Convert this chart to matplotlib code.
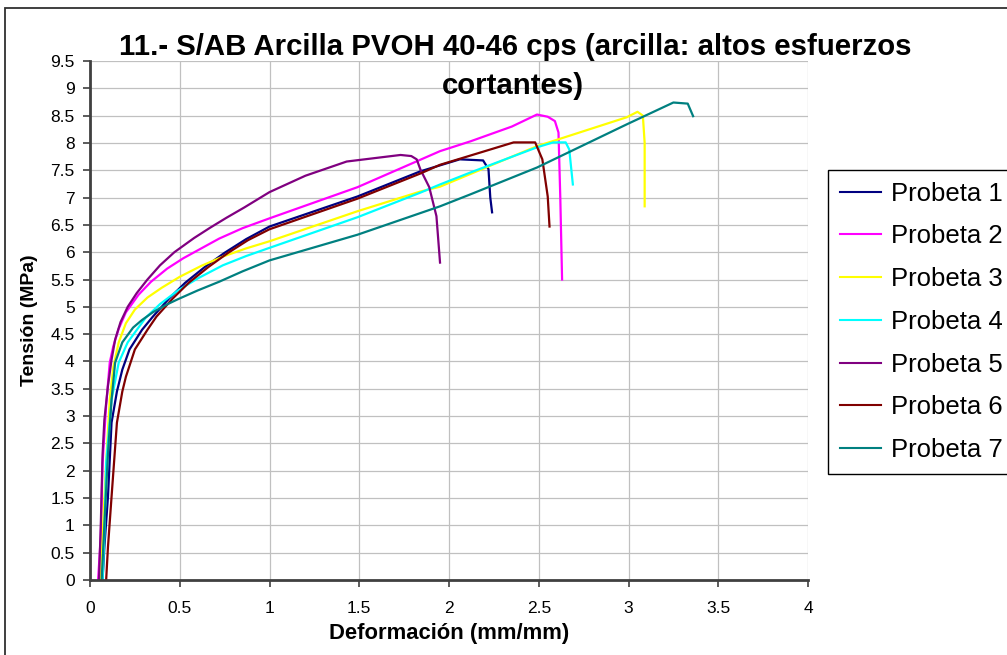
import matplotlib
matplotlib.use("Agg")
import matplotlib.pyplot as plt
from matplotlib.patches import Rectangle

plt.rcParams['font.family'] = ['Liberation Sans', 'DejaVu Sans']

# Stress-strain curves (strain in mm/mm, stress in MPa)
x1 = [0.07, 0.08, 0.10, 0.12, 0.15, 0.18, 0.22, 0.29, 0.35, 0.44, 0.53, 0.64, 0.75, 0.87, 1.00, 1.49, 1.84, 2.06, 2.19, 2.22, 2.23, 2.24]
y1 = [0.0, 0.6, 1.52, 2.88, 3.45, 3.85, 4.22, 4.58, 4.82, 5.15, 5.44, 5.73, 5.99, 6.24, 6.47, 7.02, 7.48, 7.70, 7.68, 7.52, 7.0, 6.73]

x2 = [0.045, 0.06, 0.07, 0.09, 0.11, 0.13, 0.16, 0.20, 0.27, 0.34, 0.43, 0.52, 0.62, 0.72, 0.85, 1.00, 1.49, 1.95, 2.12, 2.35, 2.49, 2.55, 2.59, 2.61, 2.62, 2.63]
y2 = [0.0, 0.8, 2.14, 3.2, 3.98, 4.28, 4.6, 4.9, 5.22, 5.46, 5.7, 5.89, 6.07, 6.25, 6.44, 6.62, 7.19, 7.85, 8.03, 8.3, 8.52, 8.48, 8.40, 8.19, 7.0, 5.5]

x3 = [0.06, 0.07, 0.09, 0.11, 0.13, 0.16, 0.20, 0.25, 0.32, 0.40, 0.50, 0.62, 0.74, 0.87, 1.00, 1.49, 1.84, 1.95, 2.49, 2.99, 3.05, 3.08, 3.09, 3.09]
y3 = [0.0, 0.8, 2.14, 3.3, 3.9, 4.35, 4.7, 4.95, 5.17, 5.35, 5.55, 5.75, 5.92, 6.07, 6.2, 6.75, 7.11, 7.2, 7.94, 8.47, 8.57, 8.5, 8.0, 6.84]

x4 = [0.07, 0.08, 0.09, 0.12, 0.16, 0.21, 0.27, 0.31, 0.39, 0.49, 0.60, 0.74, 0.87, 1.00, 1.49, 1.84, 1.95, 2.12, 2.49, 2.58, 2.65, 2.67, 2.69]
y4 = [0.0, 0.8, 2.14, 3.3, 3.98, 4.35, 4.62, 4.8, 5.05, 5.3, 5.52, 5.76, 5.93, 6.08, 6.64, 7.09, 7.24, 7.46, 7.92, 8.01, 8.01, 7.88, 7.24]

x5 = [0.05, 0.06, 0.07, 0.08, 0.10, 0.12, 0.14, 0.17, 0.21, 0.26, 0.32, 0.39, 0.47, 0.58, 0.67, 0.76, 0.86, 1.00, 1.20, 1.43, 1.58, 1.73, 1.79, 1.82, 1.84, 1.89, 1.93, 1.95]
y5 = [0.0, 1.0, 2.3, 2.93, 3.55, 4.03, 4.4, 4.72, 5.0, 5.25, 5.5, 5.76, 6.0, 6.26, 6.45, 6.63, 6.82, 7.1, 7.4, 7.66, 7.72, 7.78, 7.76, 7.7, 7.52, 7.19, 6.66, 5.81]

x6 = [0.09, 0.10, 0.12, 0.15, 0.18, 0.20, 0.25, 0.32, 0.37, 0.46, 0.55, 0.66, 0.77, 0.88, 1.00, 1.49, 1.84, 1.95, 2.20, 2.36, 2.48, 2.52, 2.55, 2.56]
y6 = [0.0, 0.6, 1.52, 2.88, 3.45, 3.72, 4.22, 4.58, 4.82, 5.15, 5.44, 5.73, 5.99, 6.22, 6.42, 6.98, 7.44, 7.60, 7.85, 8.01, 8.01, 7.70, 7.02, 6.47]

x7 = [0.065, 0.08, 0.10, 0.12, 0.14, 0.18, 0.24, 0.29, 0.35, 0.42, 0.49, 0.60, 0.72, 0.85, 1.00, 1.49, 1.95, 2.12, 2.49, 2.99, 3.25, 3.33, 3.36]
y7 = [0.0, 1.0, 2.3, 3.3, 3.98, 4.35, 4.62, 4.76, 4.9, 5.03, 5.14, 5.3, 5.46, 5.65, 5.85, 6.32, 6.84, 7.06, 7.55, 8.34, 8.74, 8.72, 8.49]

labels = ['Probeta 1', 'Probeta 2', 'Probeta 3', 'Probeta 4', 'Probeta 5', 'Probeta 6', 'Probeta 7']
colors = ['#000080', '#FF00FF', '#FFFF00', '#00FFFF', '#800080', '#800000', '#008080']
series = [(x1, y1), (x2, y2), (x3, y3), (x4, y4), (x5, y5), (x6, y6), (x7, y7)]

x_ticks = [0, 0.5, 1, 1.5, 2, 2.5, 3, 3.5, 4]
y_ticks = [i * 0.5 for i in range(20)]

W, H = 1007, 655
fig = plt.figure(figsize=(W / 100, H / 100), dpi=100)
fig.patch.set_facecolor('white')

# chart frame
fig.patches.append(Rectangle((5 / W, -0.05), 1.2, 1 - 8 / H + 0.05, transform=fig.transFigure,
                             fill=False, edgecolor='#303030', linewidth=1.3))

ax = fig.add_axes([90 / W, 1 - 580 / H, (808 - 90) / W, (580 - 61) / H])
for (xs, ys), c, lab in zip(series, colors, labels):
    ax.plot(xs, ys, color=c, linewidth=1.6, label=lab)

ax.set_xlim(0, 4)
ax.set_ylim(0, 9.5)
ax.set_xticks(x_ticks)
ax.set_yticks(y_ticks)
ax.set_xticklabels([f'{v:g}' for v in x_ticks])
ax.set_yticklabels([f'{v:g}' for v in y_ticks])
ax.grid(True, color='#c0c0c0', linewidth=0.9)
ax.set_axisbelow(True)
for s in ['top', 'right']:
    ax.spines[s].set_visible(False)
for s in ['left', 'bottom']:
    ax.spines[s].set_color('#404040')
    ax.spines[s].set_linewidth(2.0)
ax.tick_params(axis='both', direction='out', length=5, width=1.2, color='#404040',
               labelsize=12.5)
ax.tick_params(axis='x', pad=10)
ax.tick_params(axis='y', pad=6)

ax.set_xlabel('Deformación (mm/mm)', fontsize=15.8, fontweight='bold', labelpad=5)
ax.set_ylabel('Tensión (MPa)', fontsize=14, fontweight='bold', labelpad=9)

fig.text(515 / W, 1 - 47 / H, '11.- S/AB Arcilla PVOH 40-46 cps (arcilla: altos esfuerzos',
         ha='center', va='center', fontsize=21.2, fontweight='bold')
fig.text(513 / W, 1 - 86 / H, 'cortantes)', ha='center', va='center',
         fontsize=21.2, fontweight='bold')

leg = fig.legend(loc='upper left', bbox_to_anchor=(828 / W, 1 - 170 / H),
                 bbox_transform=fig.transFigure, fontsize=18.5, frameon=True,
                 fancybox=False, shadow=False, framealpha=1, edgecolor='black',
                 handlelength=1.6, handletextpad=0.4, borderpad=0.45, labelspacing=0.73,
                 borderaxespad=0)
leg.get_frame().set_linewidth(1.0)
for line in leg.get_lines():
    line.set_linewidth(1.5)

fig.savefig('out.png', dpi=100)
